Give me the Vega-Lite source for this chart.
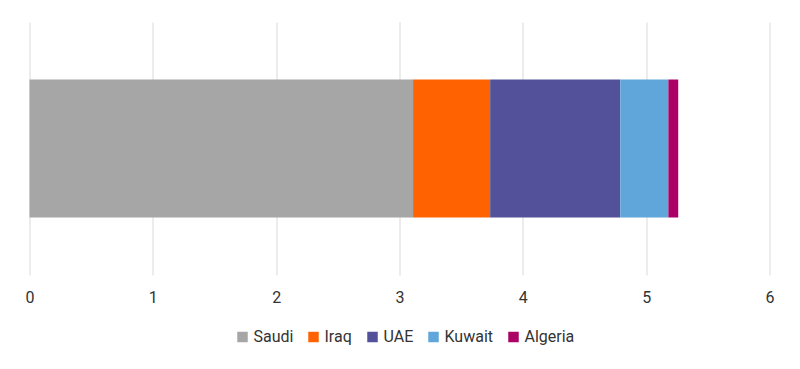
{
  "$schema": "https://vega.github.io/schema/vega-lite/v6.json",
  "width": 740,
  "height": 253,
  "autosize": "none",
  "padding": {"left": 29.5, "top": 22, "right": 30.5, "bottom": 94},
  "background": "white",
  "data": {
    "values": [
      {"cat": "Total", "country": "Saudi", "value": 3.11, "rank": 1},
      {"cat": "Total", "country": "Iraq", "value": 0.625, "rank": 2},
      {"cat": "Total", "country": "UAE", "value": 1.055, "rank": 3},
      {"cat": "Total", "country": "Kuwait", "value": 0.39, "rank": 4},
      {"cat": "Total", "country": "Algeria", "value": 0.08, "rank": 5}
    ]
  },
  "mark": {"type": "bar"},
  "encoding": {
    "y": {
      "field": "cat",
      "type": "nominal",
      "axis": null,
      "scale": {"paddingInner": 0.455, "paddingOuter": 0.2275}
    },
    "x": {
      "field": "value",
      "type": "quantitative",
      "stack": "zero",
      "scale": {"domain": [0, 6], "nice": false},
      "axis": {
        "title": null,
        "values": [0, 1, 2, 3, 4, 5, 6],
        "grid": true,
        "gridColor": "#d9d9d9",
        "gridWidth": 1,
        "domain": false,
        "ticks": false,
        "labelFlush": false,
        "labelFont": "Roboto",
        "labelFontSize": 16,
        "labelColor": "#333333",
        "labelPadding": 14
      }
    },
    "color": {
      "field": "country",
      "type": "nominal",
      "scale": {
        "domain": ["Saudi", "Iraq", "UAE", "Kuwait", "Algeria"],
        "range": ["#a6a6a6", "#ff6200", "#525199", "#60a6da", "#ab0066"]
      },
      "legend": {
        "title": null,
        "orient": "none",
        "legendX": 205,
        "legendY": 307,
        "direction": "horizontal",
        "symbolType": "square",
        "symbolSize": 110,
        "symbolStrokeWidth": 0,
        "labelFont": "Roboto",
        "labelFontSize": 16,
        "labelColor": "#333333",
        "columnPadding": 12,
        "labelOffset": 3
      }
    },
    "order": {"field": "rank", "type": "quantitative"}
  },
  "config": {"view": {"stroke": null}}
}
